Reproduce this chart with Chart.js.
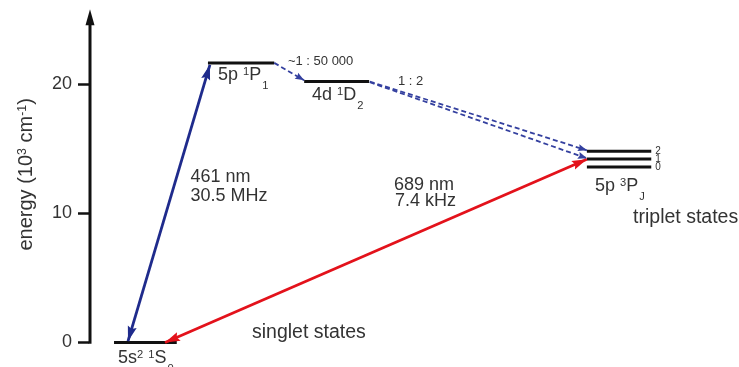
<!DOCTYPE html>
<html><head><meta charset="utf-8">
<script src="https://cdn.jsdelivr.net/npm/chart.js@4"></script>
<style>html,body{margin:0;padding:0;background:#fff;overflow:hidden}</style>
</head><body>
<canvas id="c" width="739" height="367"></canvas>
<script>
// ---- energy levels (y: energy in 10^3 cm^-1 as drawn, x: diagram column units 0..100)
const levelNames   = ['5s2 1S0', '5p 1P1', '4d 1D2', '5p 3P2', '5p 3P1', '5p 3P0'];
const levelEnergy  = [0, 21.65, 20.2, 14.81, 14.21, 13.59];
const levelXStart  = [3.85, 18.3, 33.1, 76.6, 76.6, 76.6];
const levelXEnd    = [13.5, 28.5, 43.1, 86.5, 86.5, 86.5];
const levelJ       = ['', '', '', '2', '1', '0'];

// ---- transitions
const transNames   = ['461 nm', '689 nm', '1P1 to 1D2', '1D2 to 3P2', '1D2 to 3P1'];
const transX1      = [6.0, 11.7, 28.5, 43.2, 43.2];
const transY1      = [0.1, 0.0, 21.65, 20.2, 20.15];
const transX2      = [18.6, 76.6, 33.1, 76.6, 76.6];
const transY2      = [21.5, 14.19, 20.3, 14.88, 14.26];
const transBoth    = [true, true, false, false, false];
const transDashed  = [false, false, true, true, true];

// ---- axis
const yTicks = [0, 10, 20];
const yMin = -1.9, yMax = 25.9, axisTop = 25.8;

// ---- text annotations (markup: ^{..} superscript, _{..} subscript), anchored in data units
const noteTexts = ['5p ^{1}P_{1}', '4d ^{1}D_{2}', '5s^{2} ^{1}S_{0}', '5p ^{3}P_{J}',
  '~1 : 50 000', '1 : 2', '461 nm', '30.5 MHz', '689 nm', '7.4 kHz',
  'singlet states', 'triplet states'];
const noteX = [19.85, 34.3, 4.46, 77.85, 30.6, 47.54, 15.62, 15.62, 46.92, 47.08, 25.08, 83.7];
const noteY = [20.33, 18.77, -1.59, 11.73, 21.48, 19.94, 12.43, 10.95, 11.77, 10.53, 0.35, 9.25];
const noteKind = ['lab', 'lab', 'lab', 'lab', 'small', 'small', 'lab', 'lab', 'lab', 'lab', 'big', 'big'];

const FAMILY = '"Liberation Sans", Arial, Helvetica, sans-serif';
const TEXT = '#333';
const sizeOf = {lab: 18, small: 13, big: 19.5};
const BLUE = '#1f2b8c', DBLUE = '#34409f', RED = '#e3121b';

function parseRich(str) {
  const segs = []; let i = 0, buf = '';
  while (i < str.length) {
    if ((str[i] === '^' || str[i] === '_') && str[i + 1] === '{') {
      if (buf) { segs.push({t: buf, k: 'n'}); buf = ''; }
      const end = str.indexOf('}', i);
      segs.push({t: str.slice(i + 2, end), k: str[i] === '^' ? 'sup' : 'sub'});
      i = end + 1;
    } else { buf += str[i]; i++; }
  }
  if (buf) segs.push({t: buf, k: 'n'});
  return segs;
}
function drawRich(ctx, str, x, y, size, align) {
  const segs = parseRich(str);
  const small = size * 0.62;
  let total = 0;
  segs.forEach(s => {
    ctx.font = (s.k === 'n' ? size : small) + 'px ' + FAMILY;
    s.w = ctx.measureText(s.t).width + (s.k === 'sub' ? 1 : 0);
    total += s.w;
  });
  let cx = align === 'center' ? x - total / 2 : x;
  ctx.textAlign = 'left';
  ctx.textBaseline = 'alphabetic';
  segs.forEach(s => {
    ctx.font = (s.k === 'n' ? size : small) + 'px ' + FAMILY;
    const dy = s.k === 'sup' ? -size * 0.27 : s.k === 'sub' ? size * 0.5 : 0;
    ctx.fillText(s.t, cx + (s.k === 'sub' ? 1 : 0), y + dy);
    cx += s.w;
  });
}
function arrowHead(ctx, tx, ty, fx, fy, len, hw, color) {
  const a = Math.atan2(ty - fy, tx - fx);
  const cs = Math.cos(a), sn = Math.sin(a);
  ctx.beginPath();
  ctx.moveTo(tx, ty);
  ctx.lineTo(tx - len * cs - hw * sn, ty - len * sn + hw * cs);
  ctx.lineTo(tx - len * 0.85 * cs, ty - len * 0.85 * sn);
  ctx.lineTo(tx - len * cs + hw * sn, ty - len * sn - hw * cs);
  ctx.closePath();
  ctx.fillStyle = color;
  ctx.fill();
}

const datasets = [];
transNames.forEach((n, i) => {
  datasets.push({
    label: n,
    data: [{x: transX1[i], y: transY1[i]}, {x: transX2[i], y: transY2[i]}],
    showLine: true, pointRadius: 0, clip: false,
    borderColor: i === 0 ? BLUE : i === 1 ? RED : DBLUE,
    borderWidth: transDashed[i] ? 1.8 : 2.8,
    borderDash: transDashed[i] ? [5, 3] : [],
    isArrow: true, both: transBoth[i], dashed: transDashed[i]
  });
});
levelNames.forEach((n, i) => {
  datasets.push({
    label: n,
    data: [{x: levelXStart[i], y: levelEnergy[i]}, {x: levelXEnd[i], y: levelEnergy[i]}],
    showLine: true, pointRadius: 0, clip: false,
    borderColor: '#111', borderWidth: 3, borderCapStyle: 'butt',
    isLevel: true, jLabel: levelJ[i]
  });
});

const diagram = {
  id: 'diagram',
  afterDatasetsDraw(chart) {
    const ctx = chart.ctx;
    const xs = chart.scales.x, ys = chart.scales.y;
    ctx.save();
    // vertical axis with arrow
    const ax = chart.chartArea.left + 1;
    const y0 = ys.getPixelForValue(0) + 1.2;
    const yt = ys.getPixelForValue(axisTop);
    ctx.strokeStyle = '#111'; ctx.lineWidth = 3;
    ctx.beginPath(); ctx.moveTo(ax, y0); ctx.lineTo(ax, yt + 12); ctx.stroke();
    ctx.fillStyle = '#111';
    ctx.beginPath(); ctx.moveTo(ax, yt); ctx.lineTo(ax - 4.5, yt + 16); ctx.lineTo(ax + 4.5, yt + 16); ctx.closePath(); ctx.fill();
    // axis title
    ctx.save();
    ctx.fillStyle = TEXT;
    ctx.translate(31.5, (ys.getPixelForValue(0) + ys.getPixelForValue(20)) / 2 - 39);
    ctx.rotate(-Math.PI / 2);
    drawRich(ctx, 'energy (10^{3} cm^{-1})', 0, 0, 20, 'center');
    ctx.restore();
    // arrowheads
    chart.data.datasets.forEach((ds, i) => {
      const pts = chart.getDatasetMeta(i).data;
      if (ds.isArrow) {
        const p0 = pts[0], p1 = pts[1];
        const len = ds.dashed ? 9 : 15, hw = ds.dashed ? 3.5 : 4.6;
        arrowHead(ctx, p1.x, p1.y, p0.x, p0.y, len, hw, ds.borderColor);
        if (ds.both) arrowHead(ctx, p0.x, p0.y, p1.x, p1.y, len, hw, ds.borderColor);
      }
      if (ds.isLevel && ds.jLabel) {
        const p1 = pts[1];
        ctx.fillStyle = TEXT;
        ctx.font = '10px ' + FAMILY;
        ctx.textAlign = 'left'; ctx.textBaseline = 'middle';
        ctx.fillText(ds.jLabel, p1.x + 4, p1.y);
      }
    });
    // annotations
    ctx.fillStyle = TEXT;
    noteTexts.forEach((t, i) => {
      drawRich(ctx, t, xs.getPixelForValue(noteX[i]), ys.getPixelForValue(noteY[i]), sizeOf[noteKind[i]], 'left');
    });
    ctx.restore();
  }
};

new Chart(document.getElementById('c'), {
  type: 'scatter',
  data: {datasets},
  options: {
    responsive: false, animation: false, devicePixelRatio: 1,
    layout: {padding: {top: 8, bottom: 0, left: 0, right: 0}},
    plugins: {legend: {display: false}, tooltip: {enabled: false}},
    scales: {
      x: {type: 'linear', min: 0, max: 100, display: false},
      y: {
        type: 'linear', min: yMin, max: yMax, position: 'left',
        afterBuildTicks: s => { s.ticks = yTicks.map(v => ({value: v})); },
        afterFit: s => { s.width = 89; s.paddingTop = 0; s.paddingBottom = 0; },
        ticks: {font: {family: FAMILY, size: 18}, color: TEXT, padding: 6},
        grid: {drawOnChartArea: false, drawTicks: true, tickLength: 11, tickWidth: 2.5, tickColor: '#111'},
        border: {display: false}
      }
    }
  },
  plugins: [diagram]
});
</script>
</body></html>
